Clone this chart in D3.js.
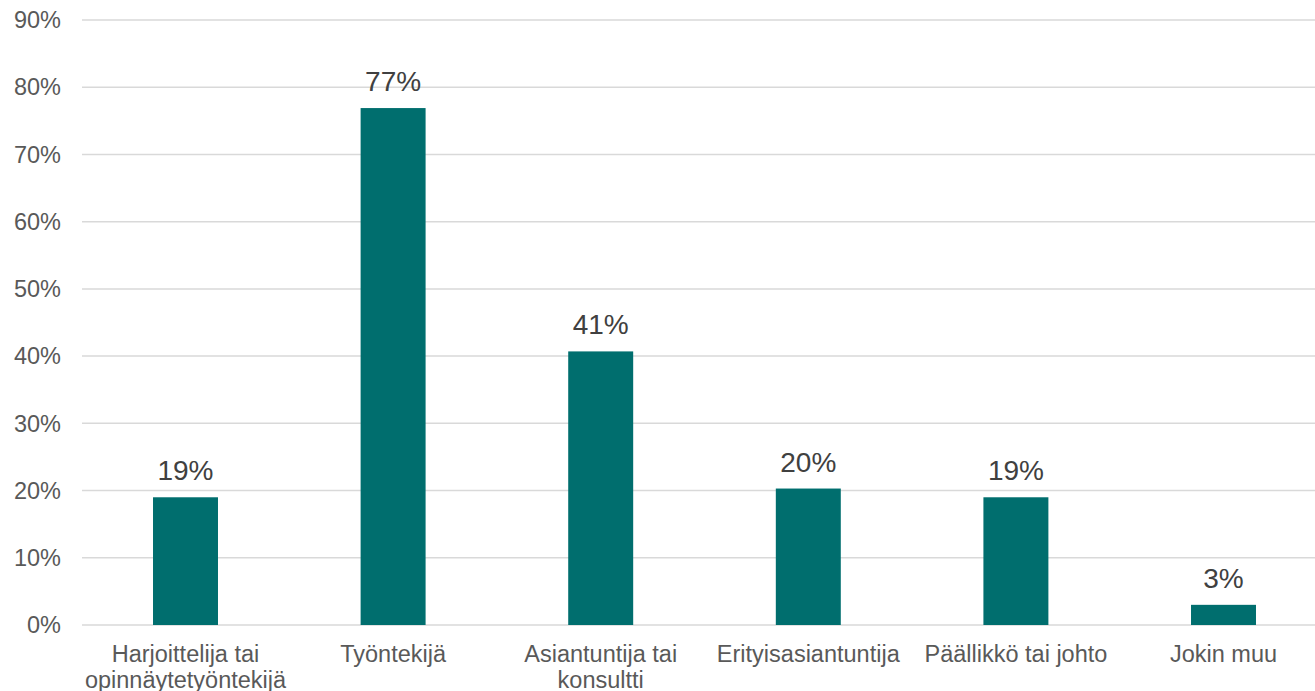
<!DOCTYPE html>
<html><head><meta charset="utf-8">
<script src="https://cdn.jsdelivr.net/npm/d3@7"></script>
<style>html,body{margin:0;padding:0;background:#fff;overflow:hidden}</style>
</head><body>
<svg id="c" width="1315" height="691"></svg>
<script>
const categories = [["Harjoittelija tai","opinnäytetyöntekijä"],["Työntekijä"],["Asiantuntija tai","konsultti"],["Erityisasiantuntija"],["Päällikkö tai johto"],["Jokin muu"]];
const values = [19.0, 76.9, 40.7, 20.3, 19.0, 3.0];
const labels = ["19%","77%","41%","20%","19%","3%"];
const yTicks = [0,10,20,30,40,50,60,70,80,90];

const svg = d3.select("#c");
const W = 1315;
const y = d3.scaleLinear().domain([0,90]).range([625,20]);
const x = d3.scaleBand().domain(d3.range(categories.length)).range([81.7,1327.3]).padding(0);
const bw = x.bandwidth()*0.313;

svg.append("g").selectAll("line").data(yTicks).join("line")
  .attr("x1",82).attr("x2",W).attr("y1",d=>y(d)).attr("y2",d=>y(d))
  .attr("stroke","#d9d9d9").attr("stroke-width",1.5);

svg.append("g").selectAll("text").data(yTicks).join("text")
  .attr("x",61).attr("y",d=>y(d)).attr("dy","0.35em").attr("text-anchor","end")
  .attr("font-family","Liberation Sans, Arial, sans-serif").attr("font-size",23.5)
  .attr("fill","#595959").text(d=>d+"%");

svg.append("g").selectAll("rect").data(values).join("rect")
  .attr("x",(d,i)=>x(i)+x.bandwidth()/2-bw/2).attr("width",bw)
  .attr("y",d=>y(d)).attr("height",d=>y(0)-y(d)).attr("fill","#006e6e");

svg.append("g").selectAll("text").data(values).join("text")
  .attr("x",(d,i)=>x(i)+x.bandwidth()/2).attr("y",d=>y(d)-17).attr("text-anchor","middle")
  .attr("font-family","Liberation Sans, Arial, sans-serif").attr("font-size",28)
  .attr("fill","#404040").text((d,i)=>labels[i]);

const xl = svg.append("g").selectAll("text").data(categories).join("text")
  .attr("x",(d,i)=>x(i)+x.bandwidth()/2).attr("y",662).attr("text-anchor","middle")
  .attr("font-family","Liberation Sans, Arial, sans-serif").attr("font-size",23.5)
  .attr("fill","#595959");
xl.each(function(d){
  const t=d3.select(this);
  d.forEach((s,j)=>t.append("tspan").attr("x",t.attr("x")).attr("dy",j?25.5:0).text(s));
});
</script>
</body></html>
